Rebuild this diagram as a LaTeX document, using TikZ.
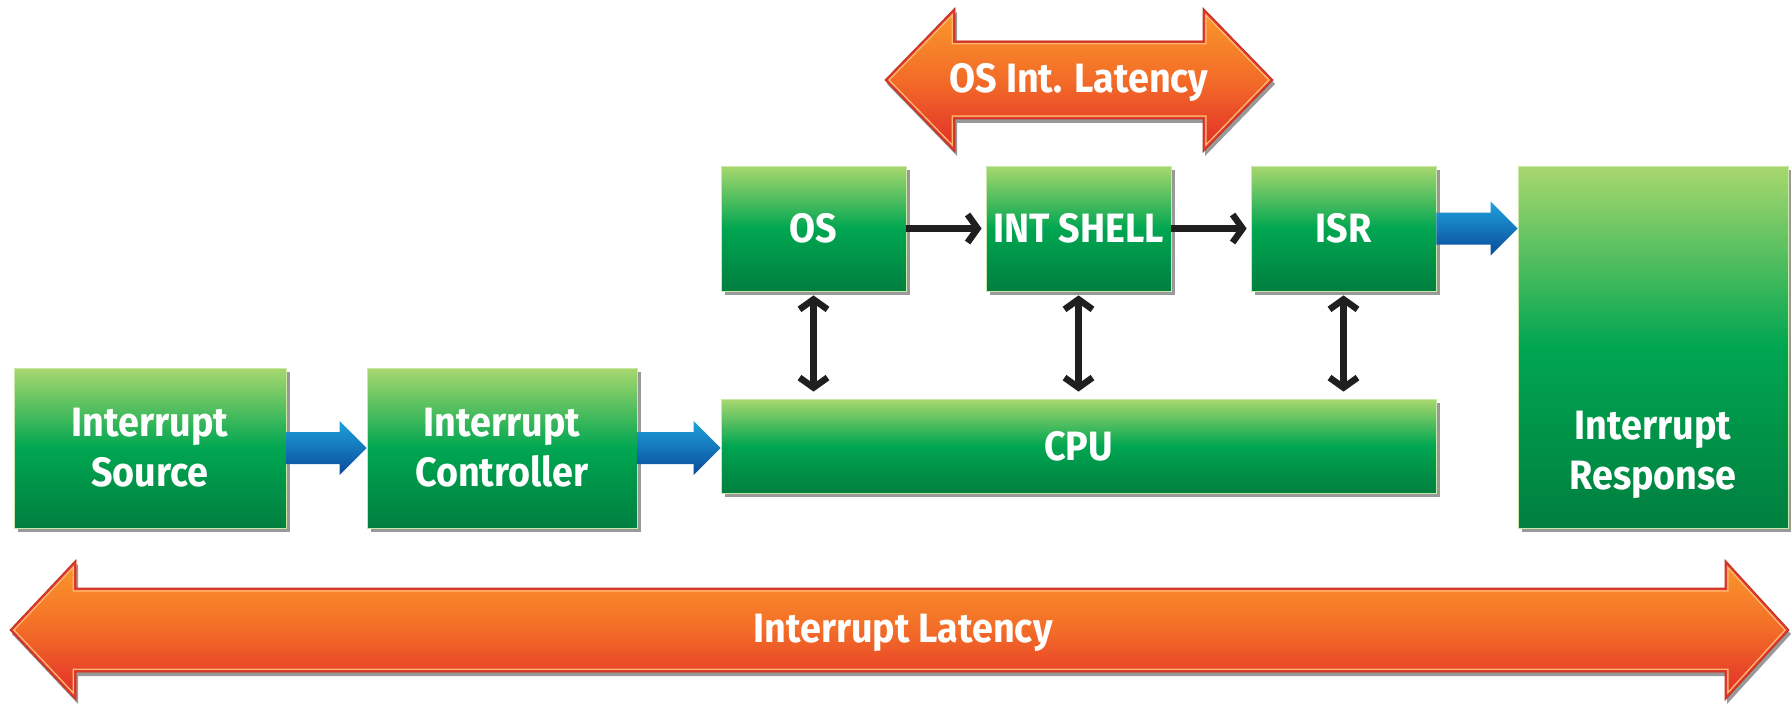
\documentclass[tikz,border=0pt]{standalone}
\usepackage{fontspec}
\newfontfamily\lblfont{Fira Sans}[FakeStretch=0.92]
\usetikzlibrary{shadows,arrows.meta,calc}
\definecolor{gtop}{HTML}{A8D86E}
\definecolor{gmid}{HTML}{00A651}
\definecolor{gbot}{HTML}{007F3F}
\definecolor{btop}{HTML}{1FA2DC}
\definecolor{bbot}{HTML}{0A4A9A}
\definecolor{otop}{HTML}{FB9A2A}
\definecolor{omid}{HTML}{F36C28}
\definecolor{obot}{HTML}{E02A29}
\definecolor{ored}{HTML}{E03A2C}
\definecolor{olight}{HTML}{FFB870}
\begin{document}
\begin{tikzpicture}[x=1pt,y=-1pt,
  lbl/.style={text=white, font=\lblfont\bfseries\fontsize{41}{50}\selectfont, align=center, inner sep=0pt},
  greenbox/.style={rectangle, inner sep=0pt, top color=gtop, bottom color=gbot, middle color=gmid,
    draw=gtop!60!white, line width=0.8pt, lbl,
    drop shadow={shadow xshift=4pt, shadow yshift=-4pt, fill=black, opacity=0.4}},
  blk/.style={line width=6.5pt, black!88, -{Straight Barb[length=10pt,width=28pt]}},
  dblk/.style={line width=6.5pt, black!88, {Straight Barb[length=10pt,width=28pt]}-{Straight Barb[length=10pt,width=28pt]}},
  bluearr/.style={top color=btop, bottom color=bbot, draw=none},
  orangearr/.style={top color=otop, bottom color=obot, middle color=omid,
    drop shadow={shadow xshift=2pt, shadow yshift=-4pt, fill=black, opacity=0.4}}
]
\useasboundingbox (0,0) rectangle (1791,706);

% green boxes
\node[greenbox, minimum width=185pt, minimum height=125pt] (os) at (813.5,228.5) {OS};
\node[greenbox, minimum width=185pt, minimum height=125pt] (int) at (1078.5,228.5) {INT SHELL};
\node[greenbox, minimum width=185pt, minimum height=125pt] (isr) at (1343.5,228.5) {ISR};
\node[greenbox, minimum width=715pt, minimum height=94pt] (cpu) at (1078.5,446) {CPU};
\node[greenbox, minimum width=272pt, minimum height=160pt] (src) at (150,448) {Interrupt\\Source};
\node[greenbox, minimum width=270pt, minimum height=160pt] (ctl) at (502,448) {Interrupt\\Controller};
\node[greenbox, minimum width=270pt, minimum height=362pt] (resp) at (1653,347) {};
\node[lbl, text depth=0pt] (resptxt) at (1653,450) {Interrupt\\Response};

% blue arrows
\newcommand\bluearrow[2]{\path[bluearr] ($(#1)+(0,-16)$) -- ($(#2)+(-27,-16)$) -- ($(#2)+(-27,-27)$) -- (#2) -- ($(#2)+(-27,27)$) -- ($(#2)+(-27,16)$) -- ($(#1)+(0,16)$) -- cycle;}
\bluearrow{src.east}{ctl.west}
\coordinate (cin) at (ctl.east -| cpu.west);
\bluearrow{ctl.east}{cin}
\coordinate (rin) at (isr.east -| resp.west);
\bluearrow{isr.east}{rin}

% black arrows
\draw[blk, shorten >=4pt] (os.east) -- (int.west);
\draw[blk, shorten >=4pt] (int.east) -- (isr.west);
\draw[dblk, shorten <=4pt, shorten >=7pt] (os.south) -- (os.south |- cpu.north);
\draw[dblk, shorten <=4pt, shorten >=7pt] (int.south) -- (int.south |- cpu.north);
\draw[dblk, shorten <=4pt, shorten >=7pt] (isr.south) -- (isr.south |- cpu.north);

% orange double arrows
\def\toparrow{(885,80) -- (955,8) -- (955,41) -- (1203,41) -- (1203,8) -- (1273,80) -- (1203,152) -- (1203,119) -- (955,119) -- (955,152) -- cycle}
\def\botarrow{(10,630) -- (76,560) -- (76,588) -- (1725,588) -- (1725,560) -- (1789,630) -- (1725,700) -- (1725,672) -- (76,672) -- (76,700) -- cycle}
\path[orangearr] \toparrow;
\begin{scope}
  \clip \toparrow;
  \draw[olight, line width=7pt] \toparrow;
  \draw[ored, line width=4pt] \toparrow;
\end{scope}
\draw[ored!85!black, line width=0.8pt] \toparrow;
\path[orangearr] \botarrow;
\begin{scope}
  \clip \botarrow;
  \draw[olight, line width=7pt] \botarrow;
  \draw[ored, line width=4pt] \botarrow;
\end{scope}
\draw[ored!85!black, line width=0.8pt] \botarrow;
\node[lbl, anchor=base] (oslat) at (1079,93) {OS Int. Latency};
\node[lbl, anchor=base] (intlat) at (903,642) {Interrupt Latency};
\end{tikzpicture}
\end{document}
